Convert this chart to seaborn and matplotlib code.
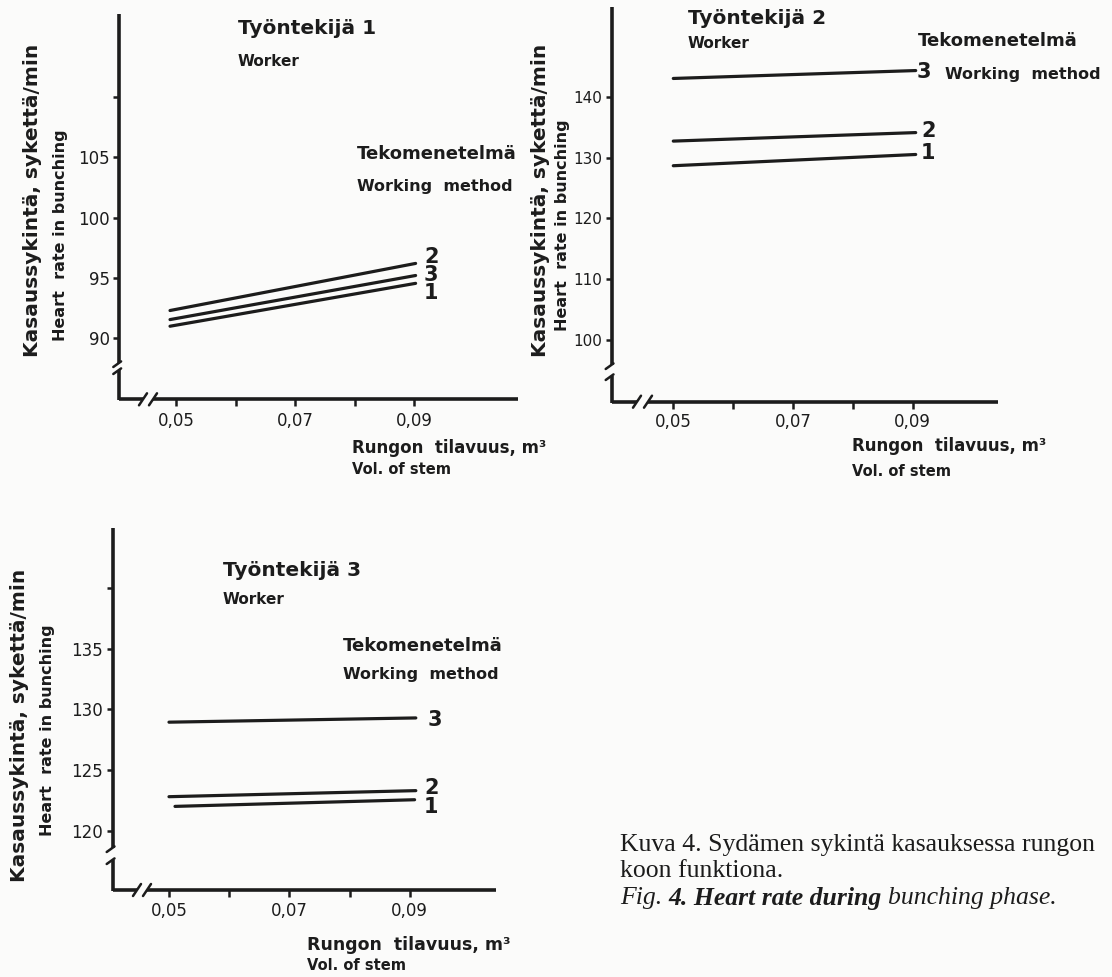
import matplotlib
matplotlib.use('Agg')
import matplotlib.pyplot as plt
import seaborn as sns
import pandas as pd

W, H = 1112, 977

# ---------------- data ----------------
vol_ticks = [0.05, 0.07, 0.09]
vol_minor = [0.06, 0.08]
vol_labels = ['0,05', '0,07', '0,09']
methods = ['1', '2', '3']

# Worker 1
w1_x = [0.049, 0.0902]
w1_m1 = [91.0, 94.55]
w1_m2 = [92.3, 96.2]
w1_m3 = [91.55, 95.2]
w1_yticks = [90, 95, 100, 105]
w1_yminor = [110]

# Worker 2
w2_x = [0.050, 0.0905]
w2_m1 = [128.65, 130.5]
w2_m2 = [132.7, 134.1]
w2_m3 = [143.0, 144.3]
w2_yticks = [100, 110, 120, 130, 140]
w2_yminor = []

# Worker 3
w3_x = [0.050, 0.0910]
w3_x1 = [0.051, 0.0908]
w3_m1 = [122.0, 122.55]
w3_m2 = [122.8, 123.3]
w3_m3 = [128.95, 129.3]
w3_yticks = [120, 125, 130, 135]
w3_yminor = [140]

ylab_fi = 'Kasaussykintä, sykettä/min'
ylab_en = 'Heart  rate in bunching'
xlab_fi = 'Rungon  tilavuus, m³'
xlab_en = 'Vol. of stem'

# ---------------- style ----------------
sns.set_theme(style='white')
plt.rcParams['font.family'] = ['DejaVu Sans']
INK = '#1c1c1c'
PAPER = '#fbfbfa'

fig = plt.figure(figsize=(W / 100, H / 100), dpi=100, facecolor=PAPER)


def T(x, y, s, **kw):
    kw.setdefault('color', INK)
    return fig.text(x / W, 1 - y / H, s, **kw)


def make_df(xs, ys):
    rows = []
    for m, x, y in zip(methods, xs, ys):
        for xi, yi in zip(x, y):
            rows.append({'vol': xi, 'hr': yi, 'method': m})
    return pd.DataFrame(rows)


def panel(rect, xlim, ylim, ybrk, xbrk, df, yticks, yminor, ylsize=12, xpad=4):
    l, t, r, b = rect
    ax = fig.add_axes([l / W, 1 - b / H, (r - l) / W, (b - t) / H])
    ax.set_facecolor('none')
    sns.lineplot(data=df, x='vol', y='hr', hue='method',
                 palette=[INK, INK, INK], legend=False, ax=ax,
                 linewidth=2.3, estimator=None, sort=False)
    ax.set_xlim(*xlim)
    ax.set_ylim(*ylim)
    for s in ax.spines.values():
        s.set_visible(False)
    ax.set_xticks(vol_ticks)
    ax.set_xticklabels(vol_labels)
    ax.set_xticks(vol_minor, minor=True)
    ax.set_yticks(yticks)
    ax.set_yticklabels([str(v) for v in yticks])
    ax.set_yticks(yminor, minor=True)
    ax.tick_params(axis='both', which='both', direction='out', color=INK,
                   width=1.8, labelsize=12, labelcolor=INK)
    ax.tick_params(axis='x', which='both', length=5, pad=xpad, bottom=True)
    ax.tick_params(axis='y', which='both', length=4, pad=3, left=True,
                   labelsize=ylsize)
    ax.set_xlabel('')
    ax.set_ylabel('')
    ax.grid(False)
    wpx, hpx = r - l, b - t
    fy_top = (b - ybrk[0]) / hpx
    fy_bot = (b - ybrk[1]) / hpx
    fx_l = (xbrk[0] - l) / wpx
    fx_r = (xbrk[1] - l) / wpx
    kw = dict(transform=ax.transAxes, clip_on=False, color=INK, lw=2.6,
              solid_capstyle='butt')
    ax.plot([0, 0], [fy_top, 1], **kw)
    ax.plot([0, 0], [-0.003, fy_bot], **kw)
    ax.plot([0, fx_l], [0, 0], **kw)
    ax.plot([fx_r, 1], [0, 0], **kw)
    dx, dy = 6 / wpx, 4 / hpx
    for fy in (fy_top, fy_bot):
        ax.plot([-dx, dx * 0.3], [fy - dy, fy + dy * 0.4], transform=ax.transAxes,
                clip_on=False, color=INK, lw=1.8)
    ex, ey = 4 / wpx, 6 / hpx
    for fx in (fx_l, fx_r):
        ax.plot([fx - ex, fx + ex], [-ey, ey], transform=ax.transAxes,
                clip_on=False, color=INK, lw=1.8)
    return ax


df1 = make_df([w1_x, w1_x, w1_x], [w1_m1, w1_m2, w1_m3])
df2 = make_df([w2_x, w2_x, w2_x], [w2_m1, w2_m2, w2_m3])
df3 = make_df([w3_x1, w3_x, w3_x], [w3_m1, w3_m2, w3_m3])

ax1 = panel((119.3, 14, 518, 399.3), (0.04049, 0.10738), (84.95, 116.85),
            (363, 370), (143, 153), df1, w1_yticks, w1_yminor)
ax2 = panel((611.7, 6.7, 998, 401.7), (0.03971, 0.10425), (89.85, 154.8),
            (365, 376), (637, 648), df2, w2_yticks, w2_yminor, ylsize=11, xpad=3)
ax3 = panel((112.7, 528.3, 496, 890), (0.04065, 0.10432), (115.1, 144.95),
            (848, 860), (137, 147), df3, w3_yticks, w3_yminor)

bold = dict(fontweight='bold')

# ---- Panel 1 texts ----
T(238, 29, 'Työntekijä 1', fontsize=14.5, va='center', **bold)
T(238, 62, 'Worker', fontsize=11, va='center', **bold)
T(357, 154, 'Tekomenetelmä', fontsize=13, va='center', **bold)
T(357, 187, 'Working  method', fontsize=11.5, va='center', **bold)
T(424, 257, '2', fontsize=15, va='center', **bold)
T(424, 275, '3', fontsize=15, va='center', **bold)
T(424, 293, '1', fontsize=15, va='center', **bold)
T(33, 200, ylab_fi, fontsize=14.5, rotation=90, ha='center', va='center', **bold)
T(61, 235, ylab_en, fontsize=11.5, rotation=90, ha='center', va='center', **bold)
T(352, 448, xlab_fi, fontsize=12, va='center', **bold)
T(352, 469, xlab_en, fontsize=10.5, va='center', **bold)

# ---- Panel 2 texts ----
T(688, 18, 'Työntekijä 2', fontsize=14.5, va='center', **bold)
T(688, 43, 'Worker', fontsize=11, va='center', **bold)
T(918, 41, 'Tekomenetelmä', fontsize=13, va='center', **bold)
T(917, 72, '3', fontsize=15, va='center', **bold)
T(945, 74, 'Working  method', fontsize=11.5, va='center', **bold)
T(921, 131, '2', fontsize=15, va='center', **bold)
T(921, 153, '1', fontsize=15, va='center', **bold)
T(541, 200, ylab_fi, fontsize=14.5, rotation=90, ha='center', va='center', **bold)
T(562, 225, ylab_en, fontsize=11.5, rotation=90, ha='center', va='center', **bold)
T(852, 446, xlab_fi, fontsize=12, va='center', **bold)
T(852, 471, xlab_en, fontsize=10.5, va='center', **bold)

# ---- Panel 3 texts ----
T(223, 570, 'Työntekijä 3', fontsize=14.5, va='center', **bold)
T(223, 599, 'Worker', fontsize=11, va='center', **bold)
T(343, 646, 'Tekomenetelmä', fontsize=13, va='center', **bold)
T(343, 675, 'Working  method', fontsize=11.5, va='center', **bold)
T(428, 720, '3', fontsize=15, va='center', **bold)
T(424, 788, '2', fontsize=15, va='center', **bold)
T(424, 807, '1', fontsize=15, va='center', **bold)
T(20, 725, ylab_fi, fontsize=14.5, rotation=90, ha='center', va='center', **bold)
T(48, 730, ylab_en, fontsize=11.5, rotation=90, ha='center', va='center', **bold)
T(307, 945, xlab_fi, fontsize=12.5, va='center', **bold)
T(307, 966, xlab_en, fontsize=10.5, va='center', **bold)

# ---- Caption ----
serif = ['Liberation Serif', 'DejaVu Serif']
T(620, 845, 'Kuva 4. Sydämen sykintä kasauksessa rungon', fontsize=18.5,
  va='center', family=serif)
T(620, 871, 'koon funktiona.', fontsize=18.5, va='center', family=serif)

fig.canvas.draw()
renderer = fig.canvas.get_renderer()
x0 = 620
for txt, wt in [('Fig. ', 'normal'), ('4. Heart rate during ', 'bold'),
                ('bunching phase.', 'normal')]:
    t = T(x0, 898, txt, fontsize=18.5, va='center', family=serif,
          style='italic', fontweight=wt)
    bb = t.get_window_extent(renderer)
    x0 += bb.width

fig.savefig('out.png', dpi=100, facecolor=PAPER)
